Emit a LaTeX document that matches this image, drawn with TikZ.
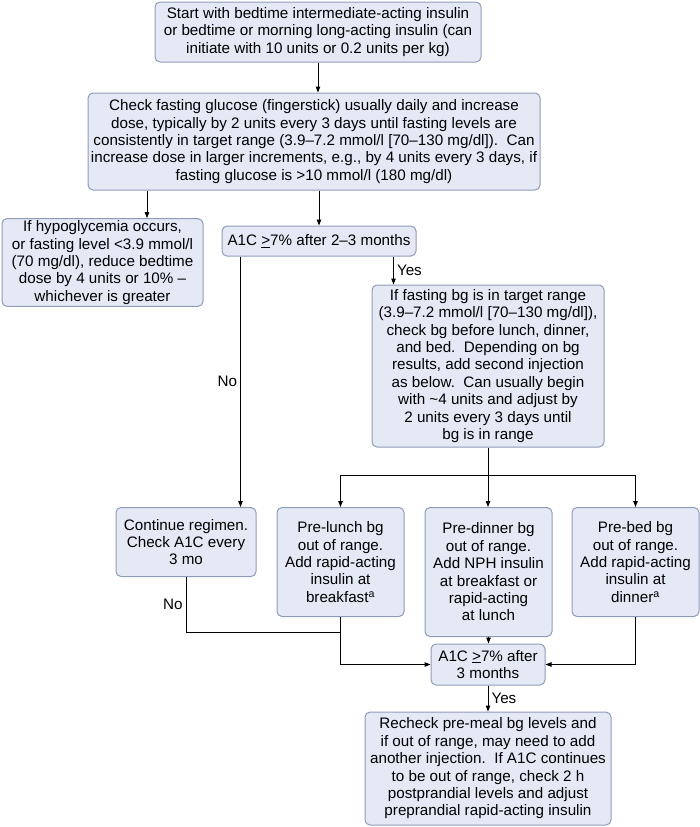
\documentclass[tikz,border=0pt]{standalone}
\usepackage{fontspec}
\setmainfont{Liberation Sans}
\usetikzlibrary{arrows.meta,positioning}
\definecolor{boxfill}{RGB}{229,233,246}
\definecolor{boxline}{RGB}{143,156,184}
\tikzset{
  box/.style = {draw=boxline, fill=boxfill, rounded corners=5pt, align=center,
    font=\fontsize{15.2pt}{17.4pt}\selectfont, inner xsep=2pt, inner ysep=2pt},
  arr/.style = {-{Triangle[length=6pt,width=4.5pt]}},
  lbl/.style = {font=\fontsize{15.2pt}{17.4pt}\selectfont, inner sep=3pt}
}
\begin{document}
\begin{tikzpicture}[x=1pt, y=1pt, line width=1pt]
    \useasboundingbox (0,0) rectangle (700,-827);
    % top part
    \node[box, minimum width=326pt, minimum height=60pt] (start) at (318,-32)
      {Start with bedtime intermediate-acting insulin\\or bedtime or morning long-acting insulin (can\\initiate with 10 units or 0.2 units per kg)};
    \node[box, minimum width=452pt, minimum height=97pt] (check) at (314,-141.5)
      {Check fasting glucose (fingerstick) usually daily and increase\\dose, typically by 2 units every 3 days until fasting levels are\\consistently in target range (3.9–7.2 mmol/l [70–130 mg/dl]).\ \ Can\\increase dose in larger increments, e.g., by 4 units every 3 days, if\\fasting glucose is >10 mmol/l (180 mg/dl)};
    \node[box, minimum width=201pt, minimum height=75pt] (hypo) at (102.5,-262.5)
      {If hypoglycemia occurs,\\or fasting level <3.9 mmol/l\\(70 mg/dl), reduce bedtime\\dose by 4 units or 10\% –\\whichever is greater};
    \node[box, minimum width=194pt, minimum height=30pt] (aonec) at (319,-241)
      {A1C \underline{>}7\% after 2–3 months};
    \node[box, minimum width=232pt, minimum height=162pt] (ifast) at (488,-366)
      {If fasting bg is in target range\\(3.9–7.2 mmol/l [70–130 mg/dl]),\\check bg before lunch, dinner,\\and bed.\ \ Depending on bg\\results, add second injection\\as below.\ \ Can usually begin\\with \textasciitilde 4 units and adjust by\\2 units every 3 days until\\bg is in range};
    % second-injection row
    \node[box, anchor=north, minimum width=140pt, minimum height=69pt] (cont) at (186,-507)
      {Continue regimen.\\Check A1C every\\3 mo};
    \node[box, anchor=north, minimum width=127pt, minimum height=109pt] (prelunch) at (340.5,-507)
      {Pre-lunch bg\\out of range.\\Add rapid-acting\\insulin at\\breakfast\textsuperscript{a}};
    \node[box, anchor=north, minimum width=127pt, minimum height=129pt] (predinner) at (488.5,-507)
      {Pre-dinner bg\\out of range.\\Add NPH insulin\\at breakfast or\\rapid-acting\\at lunch};
    \node[box, anchor=north, minimum width=127pt, minimum height=109pt] (prebed) at (635.5,-507)
      {Pre-bed bg\\out of range.\\Add rapid-acting\\insulin at\\dinner\textsuperscript{a}};
    % bottom part
    \node[box, minimum width=114pt, minimum height=41pt] (aonectwo) at (488,-664.5)
      {A1C \underline{>}7\% after\\3 months};
    \node[box, minimum width=246pt, minimum height=113pt] (recheck) at (488,-768.5)
      {Recheck pre-meal bg levels and\\if out of range, may need to add\\another injection.\ \ If A1C continues\\to be out of range, check 2 h\\postprandial levels and adjust\\preprandial rapid-acting insulin};
    % connectors
    \draw[arr] (start.south) -- (start.south |- check.north);
    \draw[arr] ([xshift=44.5pt]hypo.north |- check.south) -- ([xshift=44.5pt]hypo.north);
    \draw[arr] (aonec.north |- check.south) -- (aonec.north);
    \draw[arr] ([xshift=-23pt]aonec.south east) -- node[lbl, right] {Yes} ([xshift=-23pt]aonec.south east |- ifast.north);
    \draw[arr] ([xshift=19pt]aonec.south west) -- node[lbl, left] {No} ([xshift=19pt]aonec.south west |- cont.north);
    \draw (ifast.south) -- ++(0,-28) coordinate (split);
    \draw[arr] (split) -| (prelunch.north);
    \draw[arr] (split) -- (split |- predinner.north);
    \draw[arr] (split) -| (prebed.north);
    \draw (cont.south) |- node[lbl, pos=0.25, left] {No} ([yshift=-15pt]prelunch.south);
    \draw[arr] (prelunch.south) |- (aonectwo.west);
    \draw[arr] (predinner.south) -- (predinner.south |- aonectwo.north);
    \draw[arr] (prebed.south) |- (aonectwo.east);
    \draw[arr] (aonectwo.south) -- node[lbl, right] {Yes} (recheck.north);
\end{tikzpicture}
\end{document}
